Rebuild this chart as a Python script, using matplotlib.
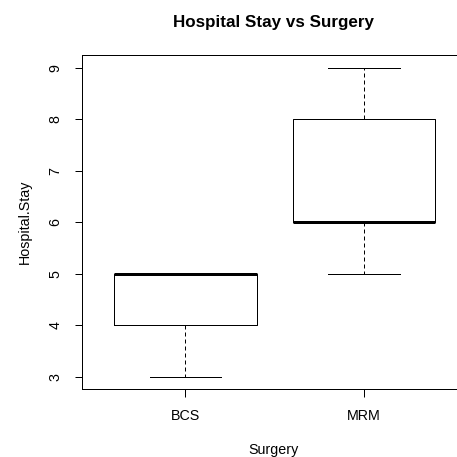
import matplotlib
matplotlib.use("Agg")
import matplotlib.pyplot as plt

plt.rcParams['font.family'] = ['Liberation Sans', 'DejaVu Sans']

categories = ["BCS", "MRM"]
whisker_low = [3, 5]
q1 = [4, 6]
median = [5, 6]
q3 = [5, 8]
whisker_high = [5, 9]
yticks = [3, 4, 5, 6, 7, 8, 9]

DPI = 100
W = H = 457
px = 72.0 / DPI  # points per pixel

fig = plt.figure(figsize=(W / DPI, H / DPI), dpi=DPI)
left, right, top, bottom = 81.7, 467.6, 55.3, 389.0
ax = fig.add_axes([left / W, 1 - bottom / H, (right - left) / W, (bottom - top) / H])

stats = []
for i, c in enumerate(categories):
    stats.append(dict(label=c, whislo=whisker_low[i], q1=q1[i], med=median[i],
                      q3=q3[i], whishi=whisker_high[i], fliers=[]))

ax.bxp(stats, positions=[1, 2], widths=0.8, showfliers=False,
       boxprops=dict(color='black', linewidth=1 * px),
       medianprops=dict(color='black', linewidth=3 * px, solid_capstyle='butt'),
       whiskerprops=dict(color='black', linewidth=1 * px, linestyle=(0, (4, 3))),
       capprops=dict(color='black', linewidth=1 * px),
       capwidths=0.4)

ax.set_xlim(0.42, 2.58)
ax.set_ylim(2.76, 9.24)
ax.set_yticks(yticks)
ax.set_xticks([1, 2])
ax.set_xticklabels(categories)

for s in ['left', 'bottom', 'top']:
    ax.spines[s].set_linewidth(1 * px)
    ax.spines[s].set_color('black')
ax.spines['right'].set_visible(False)

FS = 14.2 * px
ax.tick_params(axis='both', direction='out', length=7.5 * px, width=1 * px,
               labelsize=FS, colors='black')
ax.tick_params(axis='x', pad=13 * px)
ax.tick_params(axis='y', pad=12 * px)
for lab in ax.get_yticklabels():
    lab.set_rotation(90)
    lab.set_va('center')

fig.text(273.5 / W, 1 - 450 / H, "Surgery", fontsize=FS, ha='center', va='center')
fig.text(25 / W, 1 - 222 / H, "Hospital.Stay", fontsize=FS, ha='center', va='center', rotation=90)
fig.text(273.5 / W, 1 - 22 / H, "Hospital Stay vs Surgery", fontsize=17 * px,
         fontweight='bold', ha='center', va='center')

fig.savefig("out.png", dpi=DPI)
